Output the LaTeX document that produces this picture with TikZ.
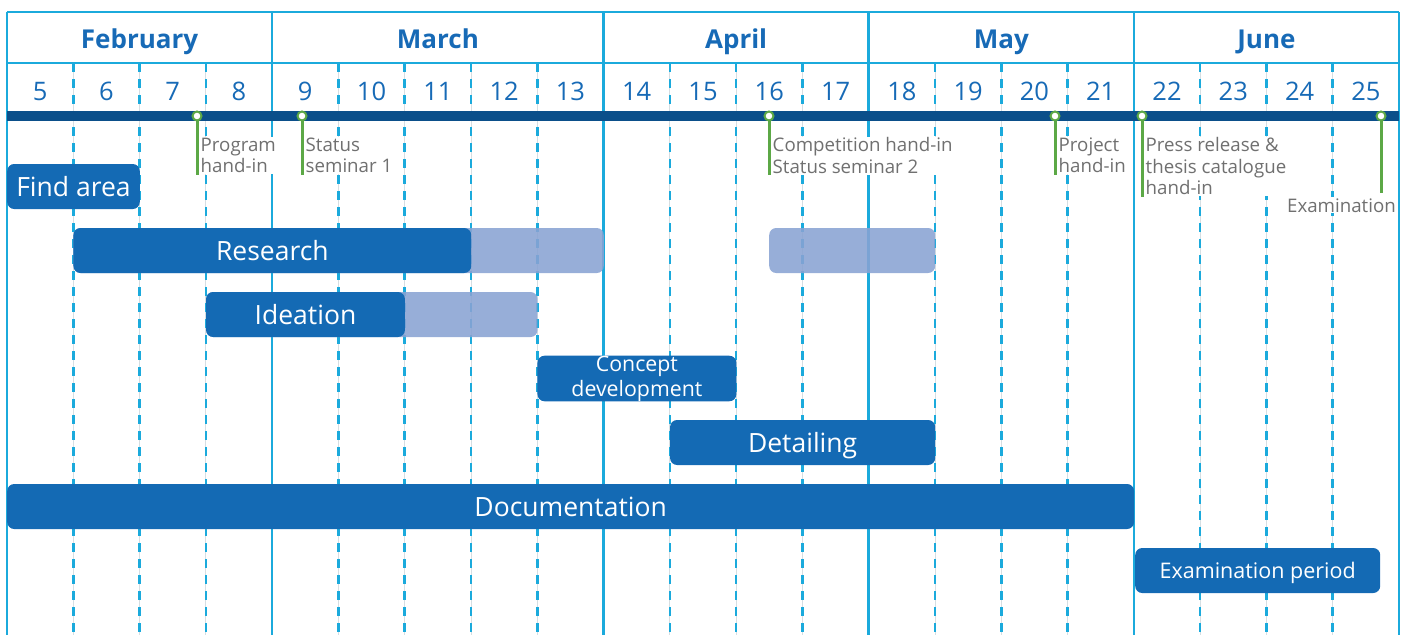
\documentclass[tikz,border=0pt]{standalone}
\usepackage{fontspec}
\setmainfont{Open Sans}
\definecolor{gridblue}{RGB}{27,170,220}
\definecolor{faintgrey}{RGB}{214,222,226}
\definecolor{barblue}{RGB}{20,106,180}
\definecolor{lightbar}{RGB}{137,163,211}
\definecolor{axisblue}{RGB}{11,79,138}
\definecolor{headblue}{RGB}{23,106,182}
\definecolor{notegrey}{RGB}{112,112,112}
\definecolor{msgreen}{RGB}{92,168,70}
\tikzset{
  solidline/.style={draw=gridblue, line width=2.5pt},
  dashline/.style={draw=gridblue, line width=2.5pt, dash pattern=on 9pt off 7pt},
  faintline/.style={draw=faintgrey, line width=1pt},
  monthlabel/.style={text=headblue, font=\fontsize{26}{30}\selectfont\bfseries, anchor=base, inner sep=0pt},
  weeklabel/.style={text=headblue, font=\fontsize{25.5}{30}\selectfont, anchor=base, inner sep=0pt},
  taskbar/.style={rectangle, rounded corners=7pt, fill=barblue, text=white, anchor=west,
    minimum height=45pt, inner sep=0pt, font=\fontsize{26.5}{30}\selectfont,
    text height=19pt, text depth=0pt},
  slackbar/.style={rectangle, rounded corners=7pt, fill=lightbar, fill opacity=0.88,
    anchor=west, minimum height=45pt, inner sep=0pt},
  note/.style={text=notegrey, fill=white, inner sep=1pt, align=left, anchor=north west,
    font=\fontsize{18.7}{21.5}\selectfont},
  msdot/.style={circle, draw=msgreen, fill=white, line width=2pt, minimum size=9pt, inner sep=0pt},
  msline/.style={draw=msgreen, line width=3pt},
}
\begin{document}
\begin{tikzpicture}[x=1pt,y=-1pt]
\useasboundingbox (0,0) rectangle (1410,635);

% week separators (dashed over a faint guide)
\foreach \i in {1,2,3,5,6,7,8,10,11,12,14,15,16,18,19,20}{
  \pgfmathsetmacro\xx{7+\i*66.2857}
  \draw[faintline] (\xx,63) -- (\xx,635);
  \draw[dashline] (\xx,63) -- (\xx,635);
}
% month separators and header rules
\foreach \xx in {7,272.14,603.57,868.71,1133.86,1399}{
  \draw[solidline] (\xx,12) -- (\xx,635);
}
\draw[solidline] (7,12) -- (1399,12);
\draw[solidline] (7,63) -- (1399,63);

% months
\node[monthlabel] (feb) at (139.57,48) {February};
\node[monthlabel] (mar) at (437.86,48) {March};
\node[monthlabel] (apr) at (736.14,48) {April};
\node[monthlabel] (may) at (1001.29,48) {May};
\node[monthlabel] (jun) at (1266.43,48) {June};

% week numbers
\foreach \i in {0,...,20}{
  \pgfmathsetmacro\xx{7+(\i+0.5)*66.2857}
  \pgfmathtruncatemacro\wk{\i+5}
  \node[weeklabel] (wk\wk) at (\xx,100) {\wk};
}

% milestone notes
\node[note] (n1) at (199.5,136.5) {Program\\hand-in};
\node[note] (n2) at (304.5,136.5) {Status\\seminar 1};
\node[note] (n3) at (771.5,136.5) {Competition hand-in\\Status seminar 2};
\node[note] (n4) at (1057.5,136.5) {Project\\hand-in};
\node[note] (n5) at (1144.5,136.5) {Press release \&\\thesis catalogue\\hand-in};
\node[note, anchor=base east] (n6) at (1397,212) {Examination};

% milestone stems
\coordinate (e1) at (197,175);
\coordinate (e2) at (302,175);
\coordinate (e3) at (769,175);
\coordinate (e4) at (1055,175);
\coordinate (e5) at (1142,197);
\coordinate (e6) at (1381,193);
\coordinate (s1) at (197,116);
\coordinate (s2) at (302,116);
\coordinate (s3) at (769,116);
\coordinate (s4) at (1055,116);
\coordinate (s5) at (1142,116);
\coordinate (s6) at (1381,116);
\foreach \k in {1,...,6}{ \draw[msline] (s\k) -- (e\k); }

% time axis
\fill[axisblue] (7,111) rectangle (1399,121);

% milestone markers
\foreach \k in {1,...,6}{ \node[msdot] (m\k) at (s\k) {}; }

% tasks
\node[taskbar, minimum width=132.57pt] (find) at (7,186.5) {Find area};

\node[slackbar, minimum width=530.28pt] (research-slack) at (73.29,250.5) {};
\node[slackbar, minimum width=166pt] (research-late) at (769,250.5) {};
\node[taskbar, minimum width=397.71pt] (research) at (73.29,250.5) {Research};

\node[slackbar, minimum width=331.43pt] (ideation-slack) at (205.86,314.5) {};
\node[taskbar, minimum width=198.85pt] (ideation) at (205.86,314.5) {Ideation};

\node[taskbar, minimum width=198.85pt, align=center, text height=, text depth=,
  font=\fontsize{21.3}{25}\selectfont] (concept) at (537.29,378.5) {Concept\\development};

\node[taskbar, minimum width=265.14pt] (detail) at (669.86,442.5) {Detailing};

\node[taskbar, minimum width=1126.86pt] (doc) at (7,506.5) {Documentation};

\node[taskbar, minimum width=245pt, font=\fontsize{21.5}{26}\selectfont,
  text height=15.5pt] (exam) at (1135,570.5) {Examination period};
\end{tikzpicture}
\end{document}
